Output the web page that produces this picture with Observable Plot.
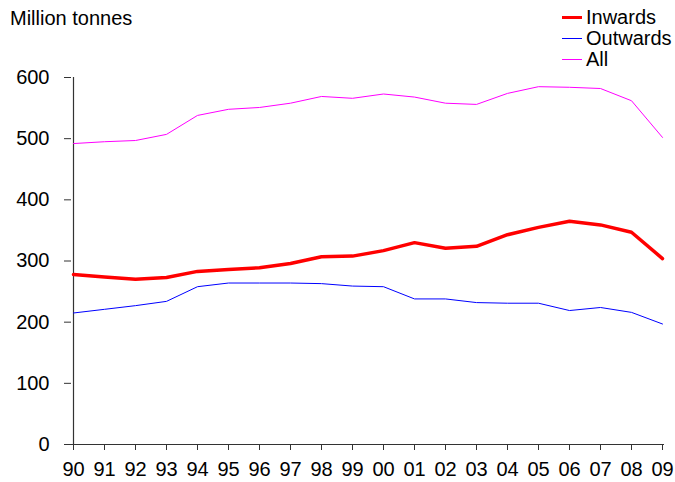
<!DOCTYPE html>
<html>
<head>
<meta charset="utf-8">
<script src="https://cdn.jsdelivr.net/npm/d3@7"></script>
<script src="https://cdn.jsdelivr.net/npm/@observablehq/plot@0.6"></script>
<style>
  html, body { margin: 0; padding: 0; background: #fff; }
  #wrap { position: relative; width: 675px; height: 482px; font-family: "Liberation Sans", Arial, sans-serif; }
  #title { position: absolute; left: 10px; top: 7px; font-size: 20px; color: #000; }
  #legend { position: absolute; left: 562px; top: 7px; font-size: 20px; color: #000; }
  .row { display: flex; align-items: center; height: 21px; }
  .sw { width: 20px; margin-right: 4px; }
  #chart { position: absolute; left: 0; top: 0; }
</style>
</head>
<body>
<div id="wrap">
  <div id="chart"></div>
  <div id="title">Million tonnes</div>
  <div id="legend"></div>
</div>
<script>
const years = ["90","91","92","93","94","95","96","97","98","99","00","01","02","03","04","05","06","07","08","09"];
const inwards  = [278, 274, 270, 273, 283, 286, 289, 296, 307, 308, 317, 330, 321, 324, 343, 355, 365, 359, 347, 304];
const outwards = [215, 221, 227, 234, 258, 264, 264, 264, 263, 259, 258, 238, 238, 232, 231, 231, 219, 224, 216, 197];
const all      = [492, 495, 497, 507, 538, 548, 551, 558, 569, 566, 573, 568, 558, 556, 574, 585, 584, 582, 562, 502];
const yTicks = [0, 100, 200, 300, 400, 500, 600];

const seriesNames = ["Inwards", "Outwards", "All"];
const seriesColors = ["#ff0000", "#0000ff", "#ff00ff"];
const seriesWidths = [3.5, 1, 1];
const seriesValues = [inwards, outwards, all];

const rows = [];
seriesNames.forEach((name, s) => {
  years.forEach((yr, i) => rows.push({series: name, year: yr, value: seriesValues[s][i]}));
});

const font = "Liberation Sans, Arial, sans-serif";

const chart = Plot.plot({
  width: 675,
  height: 482,
  marginLeft: 71,
  marginRight: 11,
  marginTop: 77,
  marginBottom: 38,
  style: { fontFamily: font, fontSize: "20px", color: "#000", background: "#fff" },
  x: { type: "point", domain: years, padding: 0 },
  y: { domain: [0, 600] },
  marks: [
    Plot.ruleX([years[0]], { stroke: "#333", strokeWidth: 1.2 }),
    Plot.ruleY([0], { stroke: "#333", strokeWidth: 1.2 }),
    Plot.axisY({ ticks: yTicks, tickSize: 7, tickPadding: 15, stroke: "#333", label: null, fontSize: 20, tickFormat: d => String(d) }),
    Plot.axisX({ tickSize: 6, tickPadding: 11, stroke: "#333", label: null, fontSize: 20 }),
    ...seriesNames.map((name, s) =>
      Plot.line(rows.filter(r => r.series === name), {
        x: "year", y: "value", stroke: seriesColors[s], strokeWidth: seriesWidths[s], strokeLinejoin: "round"
      })
    )
  ]
});
document.getElementById("chart").appendChild(chart);

const legend = document.getElementById("legend");
seriesNames.forEach((name, s) => {
  const row = document.createElement("div");
  row.className = "row";
  const sw = document.createElement("div");
  sw.className = "sw";
  sw.style.height = seriesWidths[s] + "px";
  sw.style.background = seriesColors[s];
  const t = document.createElement("span");
  t.textContent = name;
  row.appendChild(sw);
  row.appendChild(t);
  legend.appendChild(row);
});
</script>
</body>
</html>
